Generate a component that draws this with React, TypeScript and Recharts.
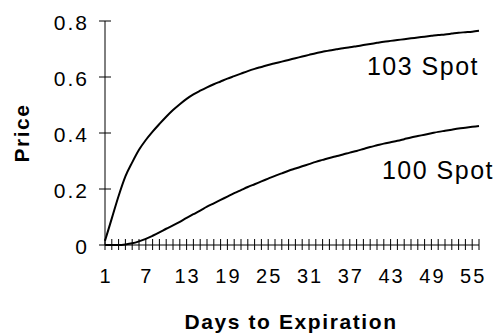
import React from 'react';
import { LineChart, Line, XAxis, YAxis, Label } from 'recharts';

// days to expiration, 1..56
const days = [
  1, 2, 3, 4, 5, 6, 7, 8, 9, 10, 11, 12, 13, 14, 15, 16, 17, 18, 19, 20,
  21, 22, 23, 24, 25, 26, 27, 28, 29, 30, 31, 32, 33, 34, 35, 36, 37, 38, 39, 40,
  41, 42, 43, 44, 45, 46, 47, 48, 49, 50, 51, 52, 53, 54, 55, 56,
];

const spot103 = [
  0.015, 0.095, 0.175, 0.245, 0.295, 0.34, 0.375, 0.405, 0.432, 0.458,
  0.482, 0.503, 0.522, 0.538, 0.551, 0.563, 0.574, 0.584, 0.594, 0.603,
  0.612, 0.621, 0.629, 0.636, 0.643, 0.649, 0.655, 0.661, 0.667, 0.673,
  0.679, 0.685, 0.69, 0.695, 0.699, 0.703, 0.706, 0.71, 0.714, 0.718,
  0.722, 0.726, 0.729, 0.732, 0.735, 0.738, 0.741, 0.744, 0.747, 0.75,
  0.752, 0.755, 0.758, 0.76, 0.762, 0.765,
];

const spot100 = [
  0, 0, 0, 0.002, 0.006, 0.013, 0.022, 0.033, 0.045, 0.058,
  0.07, 0.083, 0.097, 0.11, 0.123, 0.137, 0.149, 0.161, 0.173, 0.185,
  0.196, 0.207, 0.217, 0.227, 0.237, 0.247, 0.256, 0.265, 0.273, 0.281,
  0.289, 0.297, 0.304, 0.311, 0.317, 0.323, 0.33, 0.336, 0.343, 0.35,
  0.356, 0.362, 0.367, 0.372, 0.378, 0.384, 0.389, 0.394, 0.399, 0.404,
  0.408, 0.412, 0.416, 0.419, 0.422, 0.425,
];

const yTicks = [0, 0.2, 0.4, 0.6, 0.8];
const yTickLabels = ['0', '0.2', '0.4', '0.6', '0.8'];
const labeledDays = [1, 7, 13, 19, 25, 31, 37, 43, 49, 55];

const data = days.map((d, i) => ({ day: d, s103: spot103[i], s100: spot100[i] }));

const FONT = '"Liberation Sans", Arial, sans-serif';

const XTick = (props: any) => {
  const { x, y, payload } = props;
  return (
    <g>
      <line x1={x} y1={y - 6} x2={x} y2={y + 5} stroke="#000" strokeWidth={1} />
      {labeledDays.includes(payload.value) && (
        <text x={x + 1} y={y + 31} textAnchor="middle" dominantBaseline="central"
          fontFamily={FONT} fontSize={20} letterSpacing={2} fill="#000">
          {payload.value}
        </text>
      )}
    </g>
  );
};

const YTick = (props: any) => {
  const { x, y, payload } = props;
  const idx = yTicks.indexOf(payload.value);
  return (
    <g>
      <line x1={x - 6} y1={y} x2={x + 6} y2={y} stroke="#000" strokeWidth={1} />
      <text x={x - 16} y={y + 1} textAnchor="end" dominantBaseline="central"
        fontFamily={FONT} fontSize={21} letterSpacing={2} fill="#000">
        {idx >= 0 ? yTickLabels[idx] : payload.value}
      </text>
    </g>
  );
};

const endLabel = (text: string, dx: number, dy: number) => (props: any) => {
  const { x, y, index } = props;
  if (index !== days.length - 1) return null;
  return (
    <text x={x + dx} y={y + dy} textAnchor="end" fontFamily={FONT} fontSize={25}
      letterSpacing={1.5} fill="#000">
      {text}
    </text>
  );
};

export default function App() {
  return (
    <div style={{ position: 'absolute', left: 0, top: 0, width: 494, height: 334, background: '#fff' }}>
      <LineChart width={494} height={334} data={data}
        margin={{ top: 21, right: 15, bottom: 49, left: 45 }}>
        <XAxis dataKey="day" type="number" domain={[1, 56]} ticks={days} interval={0}
          tickLine={false} tickSize={0} tickMargin={0} tick={<XTick />}
          axisLine={{ stroke: '#000', strokeWidth: 1 }} height={40}>
          <Label content={(p: any) => (
            <text x={p.viewBox.x + p.viewBox.width / 2 - 1} y={329} textAnchor="middle"
              fontFamily={FONT} fontSize={21} fontWeight="bold" letterSpacing={1.6} fill="#000">
              Days to Expiration
            </text>
          )} />
        </XAxis>
        <YAxis type="number" domain={[0, 0.8]} ticks={yTicks} interval={0} width={60}
          tickLine={false} tickSize={0} tickMargin={0} tick={<YTick />}
          axisLine={{ stroke: '#000', strokeWidth: 1 }}>
          <Label content={(p: any) => {
            const cy = p.viewBox.y + p.viewBox.height / 2;
            return (
              <text x={21} y={cy} textAnchor="middle" dominantBaseline="central"
                transform={`rotate(-90 21 ${cy})`}
                fontFamily={FONT} fontSize={21} fontWeight="bold" letterSpacing={1.5} fill="#000">
                Price
              </text>
            );
          }} />
        </YAxis>
        <Line type="monotone" dataKey="s103" stroke="#000" strokeWidth={2} dot={false}
          isAnimationActive={false} label={endLabel('103 Spot', 0, 44)} />
        <Line type="monotone" dataKey="s100" stroke="#000" strokeWidth={2} dot={false}
          isAnimationActive={false} label={endLabel('100 Spot', 15, 53)} />
      </LineChart>
    </div>
  );
}
